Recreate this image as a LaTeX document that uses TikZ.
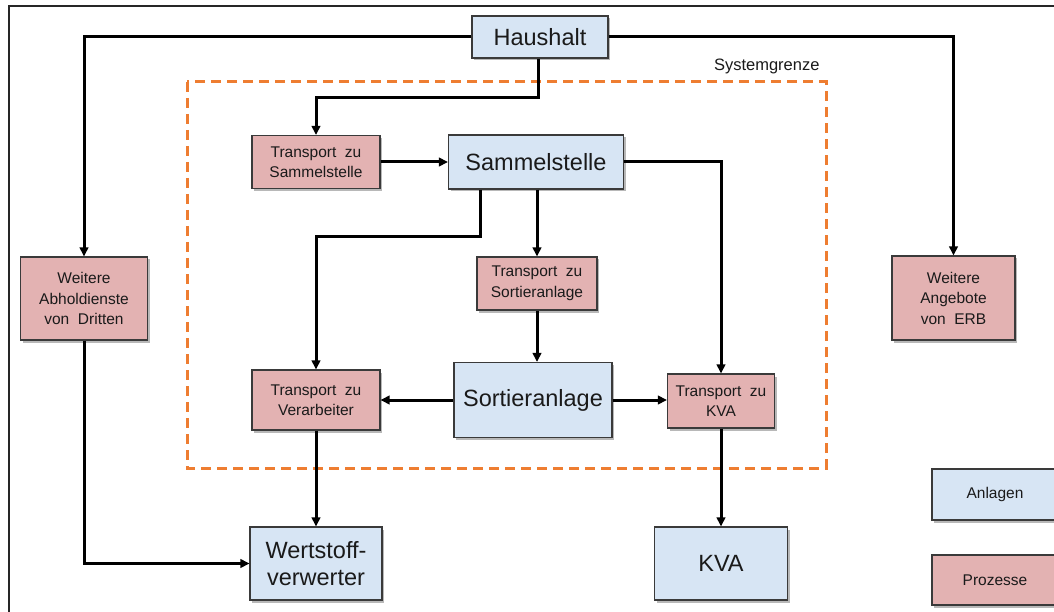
\documentclass[tikz,border=0pt]{standalone}
\usepackage{fontspec}
\setmainfont{Liberation Sans}
\usetikzlibrary{arrows.meta,shadows,calc}

\definecolor{anlage}{HTML}{D7E5F4}
\definecolor{prozess}{HTML}{E3B2B2}
\definecolor{boxline}{HTML}{3A3A3A}
\definecolor{txt}{HTML}{1A1A1A}
\definecolor{grenze}{HTML}{EE7D31}

\tikzset{
  base/.style={draw=boxline, line width=1.1pt, text=txt, align=center, inner sep=2pt,
    drop shadow={shadow xshift=2pt, shadow yshift=-2.5pt, fill=black, opacity=0.28}},
  anl/.style={base, fill=anlage, font=\fontsize{23.5}{27}\selectfont},
  proz/.style={base, fill=prozess, font=\fontsize{15.5}{20.5}\selectfont},
  leg/.style={base, font=\fontsize{15.5}{19}\selectfont},
  arr/.style={line width=3pt, black, -{Triangle[length=9pt,width=8.5pt]}},
  grenzlinie/.style={draw=grenze, line width=3pt, dash pattern=on 10pt off 6pt},
}

\begin{document}
\begin{tikzpicture}[x=1pt, y=-1pt]
  \useasboundingbox (0,0) rectangle (1054,612);
  \clip (0,0) rectangle (1054,612);

  % outer frame
  \draw[line width=1.8pt, black!85] (9,6) rectangle (1070,630);

  % system boundary
  \draw[grenzlinie] (187,82) rectangle (826,468);
  \node[font=\fontsize{16.5}{19}\selectfont, text=txt, anchor=south east] (sg) at (823,77) {Systemgrenze};

  % facilities
  \node[anl, minimum width=136pt, minimum height=42pt] (haus) at (540,37) {Haushalt};
  \node[anl, minimum width=175pt, minimum height=54pt] (sam) at (536,162) {Sammelstelle};
  \node[anl, minimum width=158pt, minimum height=75pt] (sort) at (533,400) {Sortieranlage};
  \node[anl, minimum width=132pt, minimum height=73pt] (wsv) at (316,563.5) {Wertstoff-\\verwerter};
  \node[anl, minimum width=133pt, minimum height=73pt] (kva) at (721,563.5) {KVA};

  % processes
  \node[proz, minimum width=128pt, minimum height=53pt] (tzs) at (316,162) {Transport\ \ zu\\Sammelstelle};
  \node[proz, minimum width=120pt, minimum height=53pt] (tzsort) at (537,283.5) {Transport\ \ zu\\Sortieranlage};
  \node[proz, minimum width=128pt, minimum height=60pt] (tzv) at (316,400) {Transport\ \ zu\\Verarbeiter};
  \node[proz, minimum width=107pt, minimum height=54pt] (tzk) at (721,401) {Transport\ \ zu\\KVA};
  \node[proz, minimum width=127pt, minimum height=83pt] (wab) at (84,298.5) {Weitere\\Abholdienste\\von\ \ Dritten};
  \node[proz, minimum width=123pt, minimum height=84pt] (wang) at (953.5,298) {Weitere\\Angebote\\von\ \ ERB};

  % legend
  \node[leg, fill=anlage, minimum width=126pt, minimum height=51pt] (lega) at (995,494.5) {Anlagen};
  \node[leg, fill=prozess, minimum width=126pt, minimum height=50pt] (legp) at (995,580) {Prozesse};

  % flows
  \draw[arr] (haus.west) -| (wab.north);
  \draw[arr] (haus.east) -| (wang.north);
  \draw[arr] ([xshift=-2pt]haus.south) -- ++(0,39) -| (tzs.north);
  \draw[arr] (tzs.east) -- (tzs.east -| sam.west);
  \draw[arr] (sam.east) -| (tzk.north);
  \draw[arr] ([xshift=-56pt]sam.south) -- ++(0,47) -| (tzv.north);
  \draw[arr] (tzsort.north |- sam.south) -- (tzsort.north);
  \draw[arr] (tzsort.south) -- (tzsort.south |- sort.north);
  \draw[arr] (sort.west) -- (sort.west -| tzv.east);
  \draw[arr] (sort.east) -- (sort.east -| tzk.west);
  \draw[arr] (tzv.south) -- (wsv.north);
  \draw[arr] (tzk.south) -- (kva.north);
  \draw[arr] (wab.south) |- (wsv.west);
\end{tikzpicture}
\end{document}
